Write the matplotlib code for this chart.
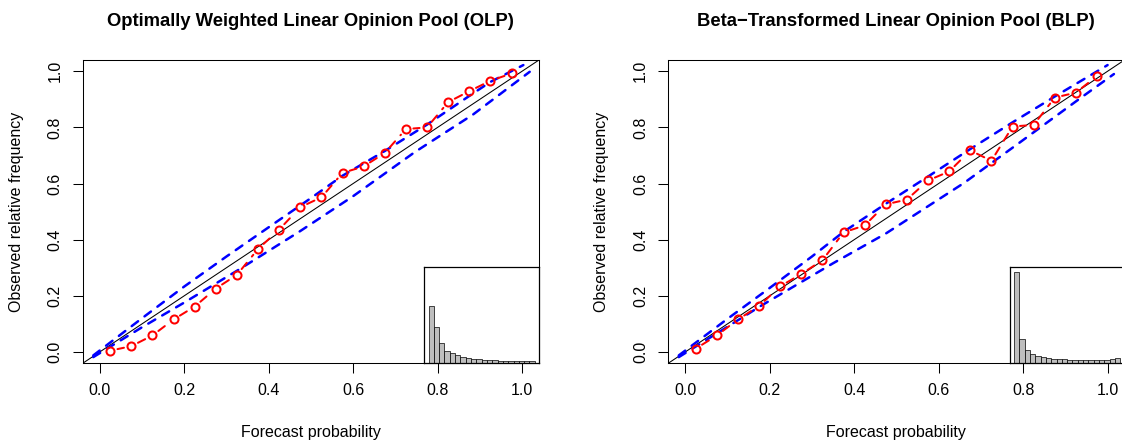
import numpy as np
import matplotlib
matplotlib.use("Agg")
from matplotlib import pyplot as plt

plt.rcParams['font.family'] = ['Liberation Sans', 'DejaVu Sans']
plt.rcParams['lines.scale_dashes'] = False

# centri dei bin (forecast probability)
centri = [0.025, 0.075, 0.125, 0.175, 0.225, 0.275, 0.325, 0.375, 0.425, 0.475,
          0.525, 0.575, 0.625, 0.675, 0.725, 0.775, 0.825, 0.875, 0.925, 0.975]

# frequenze osservate
oss_olp = [0.005, 0.021, 0.059, 0.116, 0.162, 0.226, 0.275, 0.367, 0.436, 0.516,
           0.551, 0.638, 0.661, 0.709, 0.794, 0.800, 0.890, 0.929, 0.966, 0.992]
oss_blp = [0.012, 0.059, 0.116, 0.164, 0.234, 0.278, 0.327, 0.426, 0.451, 0.526,
           0.543, 0.611, 0.643, 0.718, 0.681, 0.803, 0.809, 0.906, 0.924, 0.983]

# bande di consistenza
sup_olp_x = [-0.015, 0.1, 0.2, 0.3, 0.42, 0.5, 0.575, 0.675, 0.775, 0.875, 0.925, 1.003]
sup_olp_y = [-0.012, 0.12, 0.233, 0.34, 0.465, 0.548, 0.628, 0.716, 0.81, 0.912, 0.962, 1.022]
inf_olp_x = [-0.015, 0.1, 0.2, 0.33, 0.474, 0.6, 0.746, 0.884, 1.018]
inf_olp_y = [-0.018, 0.088, 0.176, 0.294, 0.43, 0.555, 0.712, 0.846, 0.998]

sup_blp_x = [-0.015, 0.1, 0.2, 0.3, 0.375, 0.475, 0.575, 0.675, 0.775, 0.875, 1.0]
sup_blp_y = [-0.012, 0.118, 0.228, 0.34, 0.428, 0.528, 0.625, 0.723, 0.818, 0.91, 1.022]
inf_blp_x = [-0.015, 0.18, 0.35, 0.475, 0.66, 0.79, 0.94, 1.015]
inf_blp_y = [-0.018, 0.165, 0.316, 0.422, 0.602, 0.744, 0.909, 0.99]

# istogrammi delle previsioni (altezze relative)
ist_olp = [57.6, 36, 20.6, 12.3, 10, 8, 6.3, 5.3, 4.6, 4,
           3.6, 3.3, 3, 2.7, 2.5, 2.3, 2.3, 2.3, 2.3, 2.3]
ist_blp = [91, 24.3, 13.3, 9.3, 7.3, 6, 5, 4.6, 4.3, 4,
           3.6, 3.3, 3.3, 3.0, 3.0, 3.0, 3.3, 3.6, 4.3, 5.3]
ist_top = 96

tick_vals = [0.0, 0.2, 0.4, 0.6, 0.8, 1.0]
tick_lab = ['0.0', '0.2', '0.4', '0.6', '0.8', '1.0']

titoli = ['Optimally Weighted Linear Opinion Pool (OLP)',
          'Beta\u2212Transformed Linear Opinion Pool (BLP)']

W, H = 1122, 441
fig = plt.figure(figsize=(W / 100, H / 100), dpi=100)

ROSSO = '#FF0000'
BLU = '#0000FF'
DASH = (5.8, 5.8)
FS = 11.5


def linee_b(ax, x, y, gap=7.5):
    # come type="b" in R: segmenti interrotti attorno ai punti
    pts = ax.transData.transform(np.column_stack([x, y]))
    inv = ax.transData.inverted()
    for i in range(len(pts) - 1):
        d = pts[i + 1] - pts[i]
        L = np.hypot(d[0], d[1])
        if L <= 2 * gap + 1:
            continue
        u = d / L
        a = inv.transform(pts[i] + u * gap)
        b = inv.transform(pts[i + 1] - u * gap)
        ax.plot([a[0], b[0]], [a[1], b[1]], color=ROSSO, lw=1.45,
                dashes=DASH, dash_capstyle='round')
    ax.plot(x, y, 'o', ms=5.8, mfc='none', mec=ROSSO, mew=1.45)


def pannello(left_px, oss, sx, sy, ix, iy, ist, titolo):
    ax_l, ax_r, ax_t, ax_b = left_px, left_px + 456.3, 60, 363.3
    ax = fig.add_axes([ax_l / W, (H - ax_b) / H, (ax_r - ax_l) / W, (ax_b - ax_t) / H])
    ax.set_xlim(-0.04, 1.04)
    ax.set_ylim(-0.04, 1.04)
    ax.plot([-0.04, 1.04], [-0.04, 1.04], color='black', lw=0.75)
    ax.plot(sx, sy, color=BLU, lw=1.8, dashes=DASH, dash_capstyle='round')
    ax.plot(ix, iy, color=BLU, lw=1.8, dashes=DASH, dash_capstyle='round')
    linee_b(ax, centri, oss)

    ax.set_xticks(tick_vals, tick_lab)
    ax.set_yticks(tick_vals, tick_lab)
    ax.tick_params(length=6.9, width=0.75, labelsize=FS, direction='out', pad=7.5)
    plt.setp(ax.get_yticklabels(), rotation=90, va='center')
    for s in ax.spines.values():
        s.set_linewidth(0.75)

    cx = (ax_l + ax_r) / 2
    fig.text(cx / W, 1 - 21.7 / H, titolo, ha='center', va='center',
             fontsize=13.35, fontweight='bold')
    fig.text(cx / W, 1 - 432 / H, 'Forecast probability', ha='center',
             va='center', fontsize=FS)
    fig.text((ax_l - 66.5) / W, 1 - ((ax_t + ax_b) / 2) / H,
             'Observed relative frequency', rotation=90, ha='center',
             va='center', fontsize=FS)

    # inset istogramma
    in_l = ax_l + 341.6
    ins = fig.add_axes([in_l / W, (H - ax_b) / H, 114.7 / W, 96 / H])
    ins.bar(centri, ist, width=0.05, color='#BEBEBE', edgecolor='black', lw=0.5)
    ins.set_xlim(-0.04, 1.04)
    ins.set_ylim(0, ist_top)
    ins.set_xticks([])
    ins.set_yticks([])
    for s in ins.spines.values():
        s.set_linewidth(0.9)


pannello(82.7, oss_olp, sup_olp_x, sup_olp_y, inf_olp_x, inf_olp_y, ist_olp, titoli[0])
pannello(668.2, oss_blp, sup_blp_x, sup_blp_y, inf_blp_x, inf_blp_y, ist_blp, titoli[1])

fig.savefig('out.png', dpi=100)
